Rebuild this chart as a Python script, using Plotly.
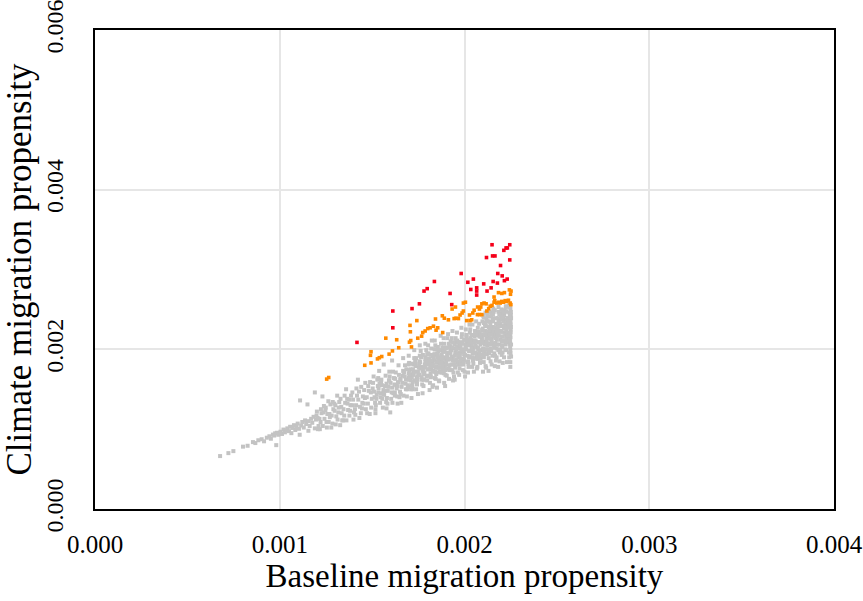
import plotly.graph_objects as go

# Values are stored in units of 1e-3 (per mille) and scaled when plotted.
SCALE = 1e-3

# ---- grey: all districts -------------------------------------------------
grey_baseline = [
    # low-propensity tail
    0.677, 0.722, 0.749, 0.801, 0.826, 0.855, 0.868, 0.884, 0.902, 0.915, 0.930, 0.944, 0.952, 0.963, 0.975, 0.981, 0.985, 0.992, 0.970,
    1.004, 1.012, 1.020, 1.028, 1.035, 1.041, 1.050, 1.056, 1.063, 1.070, 1.077, 1.084, 1.090, 1.097, 1.104, 1.110,
    1.116, 1.122, 1.130, 1.137, 1.143, 1.150, 1.156, 1.162, 1.170, 1.176, 1.183, 1.190, 1.196, 1.108, 1.155, 1.190,
    # 0.0012 - 0.0015
    1.205, 1.210, 1.201, 1.207, 1.199,
    1.221, 1.226, 1.217, 1.223, 1.215,
    1.237, 1.242, 1.233, 1.239, 1.231,
    1.253, 1.258, 1.249, 1.255, 1.247,
    1.269, 1.274, 1.265, 1.271, 1.263,
    1.285, 1.290, 1.281, 1.287, 1.279,
    1.301, 1.306, 1.297, 1.303, 1.295,
    1.317, 1.322, 1.313, 1.319, 1.311,
    1.333, 1.338, 1.329, 1.335, 1.327,
    1.349, 1.354, 1.345, 1.351, 1.343,
    1.365, 1.370, 1.361, 1.367, 1.359,
    1.381, 1.386, 1.377, 1.383, 1.375,
    1.397, 1.402, 1.393, 1.399, 1.391,
    1.413, 1.418, 1.409, 1.415, 1.407,
    1.429, 1.434, 1.425, 1.431, 1.423,
    1.445, 1.450, 1.441, 1.447, 1.439,
    1.461, 1.466, 1.457, 1.463, 1.455,
    1.477, 1.482, 1.473, 1.479, 1.471,
    1.493, 1.498, 1.489, 1.495, 1.487,
    # 0.0015 - 0.0018
    1.510, 1.516, 1.505, 1.513, 1.508, 1.518, 1.503,
    1.525, 1.531, 1.520, 1.528, 1.523, 1.533, 1.518,
    1.540, 1.546, 1.535, 1.543, 1.538, 1.548, 1.533,
    1.555, 1.561, 1.550, 1.558, 1.553, 1.563, 1.548,
    1.570, 1.576, 1.565, 1.573, 1.568, 1.578, 1.563,
    1.585, 1.591, 1.580, 1.588, 1.583, 1.593, 1.578,
    1.600, 1.606, 1.595, 1.603, 1.598, 1.608, 1.593,
    1.615, 1.621, 1.610, 1.618, 1.613, 1.623, 1.608,
    1.630, 1.636, 1.625, 1.633, 1.628, 1.638, 1.623,
    1.645, 1.651, 1.640, 1.648, 1.643, 1.653, 1.638,
    1.660, 1.666, 1.655, 1.663, 1.658, 1.668, 1.653,
    1.675, 1.681, 1.670, 1.678, 1.673, 1.683, 1.668,
    1.690, 1.696, 1.685, 1.693, 1.688, 1.698, 1.683,
    1.705, 1.711, 1.700, 1.708, 1.703, 1.713, 1.698,
    1.720, 1.726, 1.715, 1.723, 1.718, 1.728, 1.713,
    1.735, 1.741, 1.730, 1.738, 1.733, 1.743, 1.728,
    1.750, 1.756, 1.745, 1.753, 1.748, 1.758, 1.743,
    1.765, 1.771, 1.760, 1.768, 1.763, 1.773, 1.758,
    1.780, 1.786, 1.775, 1.783, 1.778, 1.788, 1.773,
    1.795, 1.801, 1.790, 1.798, 1.793, 1.803, 1.788,
    # 0.0018 - 0.0021
    1.810, 1.816, 1.805, 1.813, 1.808, 1.818, 1.803, 1.811,
    1.822, 1.828, 1.817, 1.825, 1.820, 1.830, 1.815, 1.823,
    1.834, 1.840, 1.829, 1.837, 1.832, 1.842, 1.827, 1.835,
    1.846, 1.852, 1.841, 1.849, 1.844, 1.854, 1.839, 1.847,
    1.858, 1.864, 1.853, 1.861, 1.856, 1.866, 1.851, 1.859,
    1.870, 1.876, 1.865, 1.873, 1.868, 1.878, 1.863, 1.871,
    1.882, 1.888, 1.877, 1.885, 1.880, 1.890, 1.875, 1.883,
    1.894, 1.900, 1.889, 1.897, 1.892, 1.902, 1.887, 1.895,
    1.906, 1.912, 1.901, 1.909, 1.904, 1.914, 1.899, 1.907,
    1.918, 1.924, 1.913, 1.921, 1.916, 1.926, 1.911, 1.919,
    1.930, 1.936, 1.925, 1.933, 1.928, 1.938, 1.923, 1.931,
    1.942, 1.948, 1.937, 1.945, 1.940, 1.950, 1.935, 1.943,
    1.954, 1.960, 1.949, 1.957, 1.952, 1.962, 1.947, 1.955,
    1.966, 1.972, 1.961, 1.969, 1.964, 1.974, 1.959, 1.967,
    1.978, 1.984, 1.973, 1.981, 1.976, 1.986, 1.971, 1.979,
    1.990, 1.996, 1.985, 1.993, 1.988, 1.998, 1.983, 1.991,
    2.002, 2.008, 1.997, 2.005, 2.000, 2.010, 1.995, 2.003,
    2.014, 2.020, 2.009, 2.017, 2.012, 2.022, 2.007, 2.015,
    2.026, 2.032, 2.021, 2.029, 2.024, 2.034, 2.019, 2.027,
    2.038, 2.044, 2.033, 2.041, 2.036, 2.046, 2.031, 2.039,
    2.050, 2.056, 2.045, 2.053, 2.048, 2.058, 2.043, 2.051,
    2.062, 2.068, 2.057, 2.065, 2.060, 2.070, 2.055, 2.063,
    2.074, 2.080, 2.069, 2.077, 2.072, 2.082, 2.067, 2.075,
    2.086, 2.092, 2.081, 2.089, 2.084, 2.094, 2.079, 2.087,
    # 0.0021 - upper cut-off
    2.098, 2.103, 2.095, 2.101, 2.097, 2.104, 2.094, 2.100, 2.102, 2.096,
    2.108, 2.113, 2.105, 2.111, 2.107, 2.114, 2.104, 2.110, 2.112, 2.106,
    2.118, 2.123, 2.115, 2.121, 2.117, 2.124, 2.114, 2.120, 2.122, 2.116,
    2.128, 2.133, 2.125, 2.131, 2.127, 2.134, 2.124, 2.130, 2.132, 2.126,
    2.138, 2.143, 2.135, 2.141, 2.137, 2.144, 2.134, 2.140, 2.142, 2.136,
    2.148, 2.153, 2.145, 2.151, 2.147, 2.154, 2.144, 2.150, 2.152, 2.146,
    2.158, 2.163, 2.155, 2.161, 2.157, 2.164, 2.154, 2.160, 2.162, 2.156,
    2.168, 2.173, 2.165, 2.171, 2.167, 2.174, 2.164, 2.170, 2.172, 2.166,
    2.178, 2.183, 2.175, 2.181, 2.177, 2.184, 2.174, 2.180, 2.182, 2.176,
    2.188, 2.193, 2.185, 2.191, 2.187, 2.194, 2.184, 2.190, 2.192, 2.186,
    2.198, 2.203, 2.195, 2.201, 2.197, 2.204, 2.194, 2.200, 2.202, 2.196,
    2.208, 2.213, 2.205, 2.211, 2.207, 2.214, 2.204, 2.210, 2.212, 2.206,
    2.218, 2.223, 2.215, 2.221, 2.217, 2.224, 2.214, 2.220, 2.222, 2.216,
    2.228, 2.233, 2.225, 2.231, 2.227, 2.234, 2.224, 2.230, 2.232, 2.226,
    2.238, 2.243, 2.235, 2.241, 2.237, 2.244, 2.234, 2.240, 2.242, 2.236,
    2.247, 2.250, 2.248, 2.251, 2.246, 2.249, 2.252, 2.247, 2.250, 2.248,
    2.251, 2.246, 2.249, 2.252, 2.247, 2.250, 2.248, 2.251, 2.249, 2.252,
    # dense core
    1.701, 1.708, 1.695, 1.705, 1.698,
    1.721, 1.728, 1.715, 1.725, 1.718,
    1.741, 1.748, 1.735, 1.745, 1.738,
    1.761, 1.768, 1.755, 1.765, 1.758,
    1.781, 1.788, 1.775, 1.785, 1.778,
    1.801, 1.808, 1.795, 1.805, 1.798,
    1.821, 1.828, 1.815, 1.825, 1.818,
    1.841, 1.848, 1.835, 1.845, 1.838,
    1.861, 1.868, 1.855, 1.865, 1.858,
    1.881, 1.888, 1.875, 1.885, 1.878,
    1.901, 1.908, 1.895, 1.905, 1.898,
    1.921, 1.928, 1.915, 1.925, 1.918,
    1.941, 1.948, 1.935, 1.945, 1.938,
    1.961, 1.968, 1.955, 1.965, 1.958,
    1.981, 1.988, 1.975, 1.985, 1.978,
    2.001, 2.008, 1.995, 2.005, 1.998,
    2.021, 2.028, 2.015, 2.025, 2.018,
    2.041, 2.048, 2.035, 2.045, 2.038,
    2.061, 2.068, 2.055, 2.065, 2.058,
    2.081, 2.088, 2.075, 2.085, 2.078,
    2.101, 2.108, 2.095, 2.105, 2.098,
    2.121, 2.128, 2.115, 2.125, 2.118,
    2.141, 2.148, 2.135, 2.145, 2.138,
    2.161, 2.168, 2.155, 2.165, 2.158,
    2.181, 2.188, 2.175, 2.185, 2.178,
    2.201, 2.208, 2.195, 2.205, 2.198,
    2.221, 2.228, 2.215, 2.225, 2.218,
    2.241, 2.248, 2.235, 2.245, 2.238,
]
grey_climate = [
    # low-propensity tail
    0.663, 0.700, 0.725, 0.781, 0.792, 0.838, 0.826, 0.861, 0.874, 0.848, 0.893, 0.911, 0.880, 0.932, 0.948, 0.800, 0.955, 0.930, 0.920,
    0.968, 0.940, 0.995, 0.960, 0.985, 1.010, 0.975, 1.030, 0.950, 1.015, 1.050, 0.990, 1.030, 1.070, 1.005, 1.360,
    1.045, 1.090, 1.020, 1.110, 1.065, 1.310, 1.100, 1.040, 1.130, 1.080, 1.155, 1.460, 1.120, 0.930, 0.980, 1.010,
    # 0.0012 - 0.0015
    1.14, 1.04, 1.22, 1.00, 1.17,
    1.09, 1.20, 1.00, 1.25, 1.13,
    1.21, 1.13, 1.04, 1.29, 1.41,
    1.09, 1.19, 1.27, 1.02, 1.24,
    1.19, 1.31, 1.09, 1.15, 1.35,
    1.07, 1.25, 1.17, 1.34, 1.02,
    1.30, 1.16, 1.23, 1.06, 1.32,
    1.21, 1.34, 1.12, 1.27, 1.42,
    1.28, 1.11, 1.38, 1.20, 1.05,
    1.17, 1.33, 1.25, 1.42, 1.11,
    1.38, 1.24, 1.11, 1.32, 1.50,
    1.23, 1.42, 1.17, 1.30, 1.37,
    1.37, 1.21, 1.46, 1.12, 1.30,
    1.30, 1.42, 1.18, 1.51, 1.25,
    1.47, 1.28, 1.37, 1.14, 1.62,
    1.26, 1.41, 1.53, 1.33, 1.20,
    1.39, 1.25, 1.49, 1.58, 1.32,
    1.32, 1.48, 1.20, 1.54, 1.40,
    1.46, 1.38, 1.59, 1.27, 1.19,
    # 0.0015 - 0.0018
    1.47, 1.33, 1.58, 1.40, 1.66, 1.25, 1.51,
    1.43, 1.54, 1.30, 1.62, 1.38, 1.46, 1.20,
    1.57, 1.40, 1.51, 1.33, 1.73, 1.45, 1.64,
    1.38, 1.49, 1.62, 1.27, 1.55, 1.44, 1.59,
    1.54, 1.34, 1.43, 1.67, 1.48, 1.26, 1.81,
    1.48, 1.61, 1.39, 1.53, 1.32, 1.72, 1.57,
    1.58, 1.46, 1.66, 1.38, 1.21, 1.52, 1.61,
    1.45, 1.56, 1.33, 1.64, 1.72, 1.42, 1.86,
    1.55, 1.41, 1.63, 1.51, 1.71, 1.32, 1.46,
    1.68, 1.47, 1.59, 1.40, 1.80, 1.62, 1.54,
    1.53, 1.67, 1.44, 1.58, 1.33, 1.73, 1.63,
    1.66, 1.57, 1.42, 1.80, 1.71, 1.50, 1.89,
    1.50, 1.65, 1.75, 1.55, 1.41, 1.70, 1.62,
    1.65, 1.50, 1.83, 1.61, 1.74, 1.39, 1.92,
    1.59, 1.72, 1.65, 1.81, 1.50, 1.89, 1.55,
    1.79, 1.64, 1.72, 1.50, 1.86, 1.57, 1.99,
    1.68, 1.85, 1.62, 1.77, 1.44, 1.92, 1.56,
    1.78, 1.56, 1.84, 1.65, 1.98, 1.73, 2.05,
    1.62, 1.77, 1.93, 1.71, 1.54, 1.84, 1.45,
    1.81, 1.67, 1.90, 1.61, 1.99, 1.75, 2.07,
    # 0.0018 - 0.0021
    1.81, 1.70, 1.95, 1.58, 1.86, 1.76, 2.05, 1.49,
    1.75, 1.91, 1.66, 1.84, 2.01, 1.55, 1.79, 2.11,
    1.89, 1.64, 1.81, 1.94, 1.73, 2.05, 1.53, 1.86,
    1.71, 1.85, 2.00, 1.78, 1.63, 1.92, 2.11, 1.69,
    1.89, 1.77, 1.95, 1.61, 2.03, 1.82, 1.52, 1.98,
    1.82, 1.93, 1.72, 2.07, 1.77, 1.86, 1.60, 2.17,
    1.98, 1.70, 1.90, 1.82, 2.02, 1.58, 1.93, 1.75,
    1.78, 1.87, 2.07, 1.68, 1.97, 1.81, 2.14, 1.54,
    1.92, 1.76, 2.02, 1.88, 1.67, 2.07, 1.82, 2.14,
    1.75, 1.96, 1.87, 2.05, 1.63, 1.99, 2.19, 1.80,
    1.91, 1.86, 2.10, 1.74, 1.99, 1.61, 2.03, 2.14,
    2.01, 1.81, 1.90, 2.06, 1.71, 1.96, 2.23, 1.66,
    1.86, 2.04, 1.77, 1.95, 2.14, 1.84, 1.62, 2.10,
    2.01, 1.92, 2.11, 1.81, 1.71, 2.05, 2.21, 1.90,
    1.85, 1.99, 1.76, 2.09, 1.96, 2.19, 1.68, 2.04,
    1.99, 1.88, 2.15, 1.81, 2.08, 1.94, 2.27, 1.74,
    1.93, 2.12, 1.86, 2.03, 1.72, 2.18, 1.97, 1.66,
    2.10, 1.85, 2.00, 1.92, 2.16, 1.78, 2.25, 2.06,
    1.98, 2.07, 1.82, 2.21, 1.90, 2.12, 1.71, 2.31,
    2.05, 1.95, 2.14, 1.78, 2.09, 1.86, 2.25, 2.01,
    1.89, 2.11, 1.98, 2.18, 1.82, 2.05, 2.31, 1.72,
    2.10, 1.95, 2.23, 1.91, 2.03, 1.78, 2.16, 2.35,
    2.00, 2.16, 1.88, 2.09, 2.27, 1.93, 1.76, 2.22,
    2.06, 1.93, 2.20, 1.99, 1.83, 2.14, 2.32, 1.88,
    # 0.0021 - upper cut-off
    2.08, 1.94, 2.24, 2.01, 2.35, 1.84, 2.15, 1.72, 2.42, 2.19,
    2.00, 2.18, 1.90, 2.31, 2.10, 1.79, 2.40, 2.06, 2.23, 1.97,
    2.15, 2.05, 2.29, 1.94, 1.77, 2.22, 2.46, 2.00, 2.35, 2.08,
    1.98, 2.14, 2.35, 1.89, 2.21, 2.07, 2.43, 1.73, 2.28, 2.17,
    2.14, 2.01, 2.25, 1.85, 2.41, 2.20, 1.95, 2.32, 2.06, 2.47,
    2.09, 2.28, 1.98, 2.19, 1.81, 2.39, 2.12, 2.46, 1.92, 2.23,
    2.22, 2.06, 2.35, 1.95, 2.16, 1.79, 2.44, 2.27, 2.02, 2.51,
    2.08, 2.26, 1.92, 2.32, 2.19, 2.01, 2.49, 1.86, 2.39, 2.14,
    2.17, 1.99, 2.25, 2.39, 2.06, 2.47, 1.90, 2.31, 1.78, 2.21,
    2.06, 2.23, 2.35, 1.96, 2.29, 2.12, 2.53, 1.85, 2.44, 2.17,
    2.22, 2.05, 2.32, 1.93, 2.43, 2.16, 2.00, 2.50, 2.10, 2.37,
    2.16, 2.29, 2.03, 2.39, 1.83, 2.26, 2.48, 2.10, 2.35, 1.96,
    2.27, 2.11, 2.43, 2.00, 2.21, 2.54, 1.90, 2.32, 2.06, 2.48,
    2.15, 2.34, 1.99, 2.29, 2.47, 2.09, 2.52, 1.84, 2.39, 2.24,
    2.21, 2.07, 2.39, 1.96, 2.32, 2.46, 2.14, 2.55, 1.90, 2.28,
    2.09, 2.31, 1.84, 2.47, 2.18, 1.95, 2.39, 2.03, 2.25, 1.78,
    2.43, 2.12, 2.35, 1.91, 2.53, 2.21, 1.99, 2.28, 2.15, 2.06,
    # dense core
    1.62, 1.75, 1.53, 1.69, 1.81,
    1.75, 1.61, 1.82, 1.68, 1.54,
    1.61, 1.72, 1.82, 1.66, 1.89,
    1.76, 1.62, 1.81, 1.90, 1.68,
    1.69, 1.88, 1.74, 1.81, 1.62,
    1.75, 1.88, 1.66, 1.82, 1.94,
    1.86, 1.72, 1.93, 1.79, 1.65,
    1.72, 1.83, 1.93, 1.77, 2.00,
    1.85, 1.71, 1.90, 1.99, 1.77,
    1.78, 1.97, 1.83, 1.90, 1.71,
    1.83, 1.96, 1.74, 1.90, 2.02,
    1.95, 1.81, 2.02, 1.88, 1.74,
    1.81, 1.92, 2.02, 1.86, 2.09,
    1.95, 1.81, 2.00, 2.09, 1.87,
    1.88, 2.07, 1.93, 2.00, 1.81,
    1.93, 2.06, 1.84, 2.00, 2.12,
    2.05, 1.91, 2.12, 1.98, 1.84,
    1.90, 2.01, 2.11, 1.95, 2.18,
    2.04, 1.90, 2.09, 2.18, 1.96,
    1.97, 2.16, 2.02, 2.09, 1.90,
    2.00, 2.18, 2.10, 2.33, 2.26,
    2.11, 2.00, 2.30, 2.22, 2.38,
    2.28, 2.07, 2.19, 2.43, 2.35,
    2.05, 2.18, 2.38, 2.27, 2.47,
    2.24, 2.44, 2.12, 2.35, 2.18,
    2.40, 2.11, 2.29, 2.49, 2.22,
    2.19, 2.37, 2.46, 2.10, 2.29,
    2.35, 2.51, 2.17, 2.43, 2.27,
]

# ---- orange: elevated climate propensity ---------------------------------
orange_baseline = [
    1.254, 1.265, 1.460, 1.491, 1.494, 1.494, 1.529, 1.539, 1.552, 1.574, 1.592, 1.610, 1.633, 1.644,
    1.705, 1.707, 1.702, 1.713, 1.709, 1.742, 1.747, 1.768, 1.774, 1.787, 1.801, 1.814, 1.832, 1.846,
    1.855, 1.843, 1.880, 1.891, 1.882, 1.913, 1.933, 1.951, 1.944, 1.954, 1.967, 1.976, 1.987, 1.994,
    1.994, 2.005, 2.012, 2.030, 2.039, 2.027, 2.045, 2.052, 2.071, 2.081, 2.088, 2.094, 2.106, 2.117,
    2.070, 2.081, 2.094, 2.121, 2.131, 2.139, 2.149, 2.160, 2.164, 2.160, 2.175, 2.186, 2.193, 2.202,
    2.211, 2.220, 2.229, 2.238, 2.184, 2.202, 2.216, 2.243, 2.252, 2.249, 2.247, 2.251,
]
orange_climate = [
    1.627, 1.647, 1.800, 1.925, 1.970, 1.830, 1.880, 1.895, 1.910, 2.140, 1.940, 1.980, 2.120, 2.020,
    2.300, 2.220, 2.090, 2.030, 2.110, 2.360, 2.140, 2.165, 2.210, 2.230, 2.260, 2.270, 2.290, 2.240,
    2.270, 2.380, 2.420, 2.390, 2.210, 2.370, 2.505, 2.530, 2.385, 2.390, 2.385, 2.430, 2.455, 2.480,
    2.580, 2.590, 2.360, 2.360, 2.370, 2.430, 2.455, 2.490, 2.530, 2.505, 2.530, 2.570, 2.580, 2.570,
    2.435, 2.435, 2.435, 2.480, 2.510, 2.540, 2.550, 2.655, 2.610, 2.590, 2.580, 2.590, 2.580, 2.600,
    2.590, 2.610, 2.600, 2.615, 2.710, 2.700, 2.710, 2.745, 2.730, 2.690, 2.580, 2.560,
]

# ---- red: highest climate propensity -------------------------------------
red_baseline = [
    1.418, 1.612, 1.612, 1.716, 1.756, 1.781, 1.798, 1.837, 1.922, 1.931, 1.982, 2.018, 2.034, 2.048,
    2.066, 2.066, 2.066, 2.104, 2.119, 2.122, 2.144, 2.149, 2.152, 2.165, 2.155, 2.180, 2.178, 2.195,
    2.204, 2.213, 2.216, 2.225, 2.232, 2.231, 2.245, 2.245,
]
red_climate = [
    2.087, 2.480, 2.270, 2.510, 2.570, 2.730, 2.760, 2.850, 2.700, 2.560, 2.950, 2.840, 2.750, 2.880,
    2.770, 2.730, 2.680, 2.820, 3.150, 2.730, 2.770, 3.310, 3.170, 3.170, 2.850, 2.950, 2.830, 3.050,
    2.920, 3.240, 2.860, 3.270, 3.270, 2.880, 3.120, 3.310,
]

x_ticks = [0.000, 0.001, 0.002, 0.003, 0.004]
y_ticks = [0.000, 0.002, 0.004, 0.006]

SERIF = "Liberation Serif, Times New Roman, serif"


def scaled(values):
    return [v * SCALE for v in values]


fig = go.Figure()
for xs, ys, colour, size in [
    (grey_baseline, grey_climate, "#c3c3c3", 4.0),
    (orange_baseline, orange_climate, "#ff8a00", 3.6),
    (red_baseline, red_climate, "#f5001a", 3.6),
]:
    fig.add_trace(go.Scatter(
        x=scaled(xs), y=scaled(ys), mode="markers",
        marker=dict(symbol="square", size=size, color=colour, line=dict(width=0)),
        hoverinfo="x+y", showlegend=False,
    ))

axis_common = dict(
    showline=True, linecolor="black", linewidth=2, mirror=True,
    showgrid=True, gridcolor="#e6e6e6", gridwidth=1.5,
    zeroline=False, ticks="outside", tickcolor="rgba(0,0,0,0)",
    tickformat=".3f", automargin=False, ticklabeloverflow="allow",
)

fig.update_layout(
    width=863, height=601,
    margin=dict(l=95, r=29, t=30, b=92),
    paper_bgcolor="white", plot_bgcolor="white",
    xaxis=dict(
        range=[0, 0.004], tickvals=x_ticks, ticklen=12,
        tickfont=dict(family=SERIF, size=25, color="black"),
        title=dict(text="Baseline migration propensity", standoff=6,
                   font=dict(family=SERIF, size=33, color="black")),
        **axis_common,
    ),
    yaxis=dict(
        range=[0, 0.006], tickvals=y_ticks, tickangle=-90, ticklen=20,
        tickfont=dict(family=SERIF, size=24, color="black"),
        title=dict(text="Climate migration propensity", standoff=4,
                   font=dict(family=SERIF, size=35, color="black")),
        **axis_common,
    ),
)

fig.write_html("out.html")
